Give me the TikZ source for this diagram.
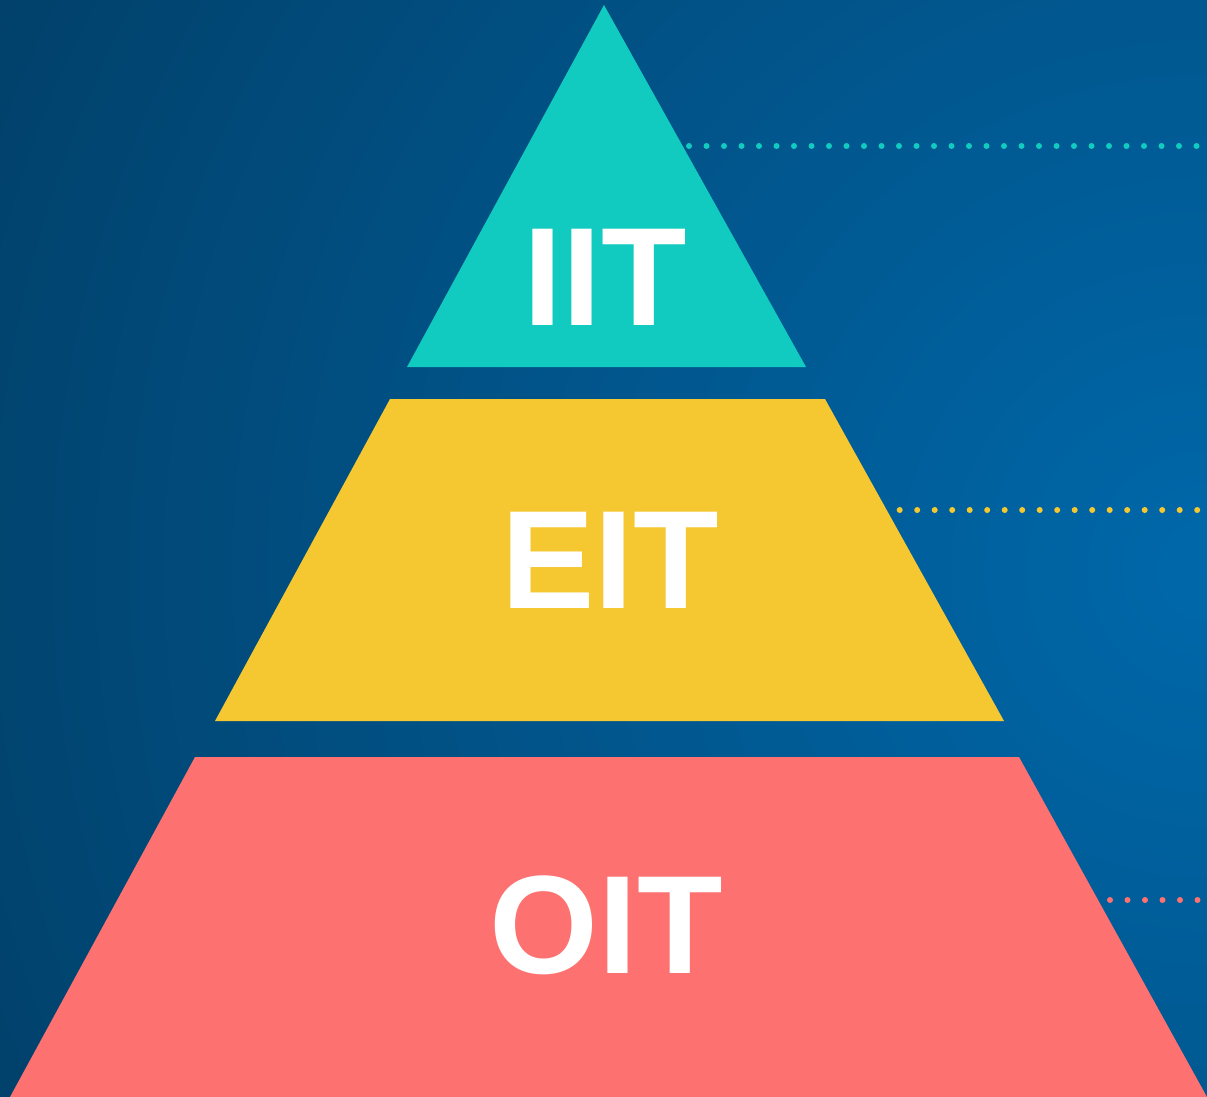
\documentclass[tikz,border=0pt]{standalone}
\usepackage{fontspec}
\setmainfont{Liberation Sans}
\definecolor{bgdark}{HTML}{022F4E}
\definecolor{bglight}{HTML}{0068AA}
\definecolor{teal1}{HTML}{12CBC0}
\definecolor{yel1}{HTML}{F5C831}
\definecolor{red1}{HTML}{FD7171}
\begin{document}
\begin{tikzpicture}[x=1pt,y=-1pt,
  label/.style={text=white,font=\bfseries\fontsize{140}{140}\selectfont,inner sep=0pt,anchor=base},
  dotmark/.style={fill=#1,draw=none}]
\useasboundingbox (0,0) rectangle (1207,1097);
\begin{scope}
  \clip (0,0) rectangle (1207,1097);
  \shade[inner color=bglight,outer color=bgdark] (1207,570) circle (1950);
\end{scope}
% dotted guides
\foreach \i in {0,...,29} \fill[dotmark=teal1] (689+17.5*\i,146) circle (3);
\foreach \i in {0,...,17} \fill[dotmark=yel1] (899.7+17.5*\i,510) circle (3);
\foreach \i in {0,...,5} \fill[dotmark=red1] (1110+17.5*\i,900) circle (3);
% tiers
\fill[teal1] (604,5) -- (806,367) -- (407,367) -- cycle;
\fill[yel1] (390,399) -- (825,399) -- (1004,721) -- (215,721) -- cycle;
\fill[red1] (195,757) -- (1019,757) -- (1207,1097) -- (10,1097) -- cycle;
\node[label] (iit) at (605,325) {IIT};
\node[label] (eit) at (610,608) {EIT};
\node[label] (oit) at (606,973) {OIT};
\end{tikzpicture}
\end{document}
